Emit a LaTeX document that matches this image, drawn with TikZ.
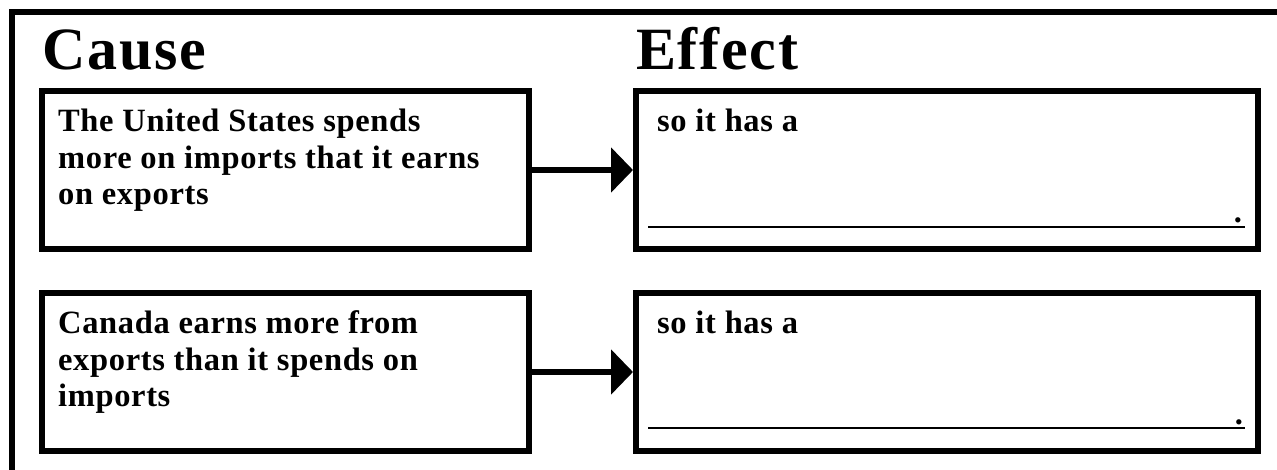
\documentclass[tikz,border=0pt]{standalone}
\usepackage{fontspec}
\setmainfont{Liberation Serif}
\newfontfamily\boxfont[LetterSpace=2]{Liberation Serif}
\newfontfamily\titlefont[LetterSpace=3]{Liberation Serif}
\usetikzlibrary{arrows.meta,calc}
\tikzset{
  frameline/.style={line width=6pt},
  cbox/.style={draw, line width=6pt, rectangle, inner sep=0pt, minimum width=487pt, minimum height=158pt},
  ebox/.style={draw, line width=6pt, rectangle, inner sep=0pt, minimum width=622pt, minimum height=158pt},
  celltext/.style={anchor=base west, inner sep=0pt, font=\boxfont\bfseries\fontsize{32.5}{36.5}\selectfont},
  titletext/.style={anchor=base west, inner sep=0pt, font=\titlefont\bfseries\fontsize{60}{62}\selectfont},
  dotmark/.style={anchor=base, inner sep=0pt, font=\boxfont\bfseries\fontsize{32.5}{36}\selectfont},
  blank/.style={line width=2pt},
  bigarrow/.style={line width=6pt, -{Triangle[length=22pt,width=44pt]}}
}
\begin{document}
\begin{tikzpicture}[x=1pt,y=-1pt]
\useasboundingbox (0,0) rectangle (1277,470);
\fill[white] (0,0) rectangle (1277,470);
\draw[frameline] (12,520) -- (12,12) -- (1320,12);

\node[titletext] (cause) at (42,70) {Cause};
\node[titletext] (effect) at (636,70) {Effect};

\node[cbox] (c1) at (285.5,170) {};
\node[ebox] (e1) at (947,170) {};
\node[cbox] (c2) at (285.5,372) {};
\node[ebox] (e2) at (947,372) {};

\node[celltext] (t1) at (58,132) {\parbox[t]{470pt}{\raggedright The United States spends\\more on imports that it earns\\on exports}};
\node[celltext] (t2) at (58,334) {\parbox[t]{470pt}{\raggedright Canada earns more from\\exports than it spends on\\imports}};
\node[celltext] (s1) at (657,132) {so it has a};
\node[celltext] (s2) at (657,334) {so it has a};

\draw[blank] (648,227) -- (1245,227);
\draw[blank] (648,428) -- (1245,428);
\node[dotmark] (p1) at (1238,223) {.};
\node[dotmark] (p2) at (1239,424) {.};

\draw[bigarrow] (c1.east) -- (e1.west);
\draw[bigarrow] (c2.east) -- (e2.west);
\end{tikzpicture}
\end{document}
